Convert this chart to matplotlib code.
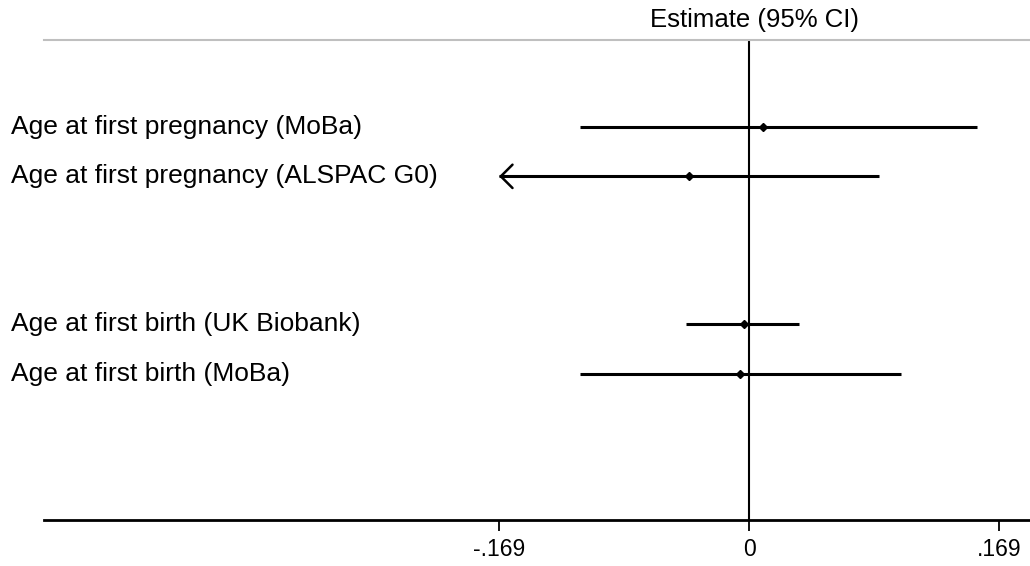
import matplotlib
matplotlib.use("Agg")
import matplotlib.pyplot as plt
from matplotlib.transforms import blended_transform_factory

plt.rcParams["font.family"] = ["Liberation Sans", "DejaVu Sans"]

LABELS = [
    "Age at first pregnancy (MoBa)",
    "Age at first pregnancy (ALSPAC G0)",
    "Age at first birth (UK Biobank)",
    "Age at first birth (MoBa)",
]
ROWS = [1, 2, 5, 6]
ESTIMATE = [0.0095, -0.0406, -0.0037, -0.0064]
CI_LOW = [-0.1143, -0.169, -0.0426, -0.1143]
CI_HIGH = [0.154, 0.0879, 0.0335, 0.1028]
TRUNCATED_LOW = [False, True, False, False]
XTICKS = [-0.169, 0, 0.169]
XTICK_LABELS = ["-.169", "0", ".169"]

LABEL_SIZE = 19
HEADER_SIZE = 18.5
TICK_SIZE = 16.5

fig = plt.figure(figsize=(10.30, 5.66), dpi=100)
ax = fig.add_axes([44 / 1030, 46 / 566, 986 / 1030, 480 / 566])
ax.set_xlim(-0.4767, 0.19)
ax.set_ylim(8.967, -0.764)

for row, est, lo, hi, trunc in zip(ROWS, ESTIMATE, CI_LOW, CI_HIGH, TRUNCATED_LOW):
    ax.plot([lo, hi], [row, row], color="black", linewidth=2.2, solid_capstyle="butt")
    if trunc:
        ax.annotate(
            "",
            xy=(lo, row),
            xytext=(lo + 0.03, row),
            arrowprops=dict(arrowstyle="->,head_length=0.6,head_width=0.6", color="black",
                            linewidth=1.8, shrinkA=0, shrinkB=0, mutation_scale=14),
        )
    ax.plot(est, row, marker="D", markersize=4.5, color="black", linestyle="none", zorder=3)

ax.axvline(0, color="black", linewidth=1.5, zorder=1)

for spine in ["left", "right"]:
    ax.spines[spine].set_visible(False)
ax.spines["bottom"].set_linewidth(2.0)
ax.spines["top"].set_color("#bfbfbf")
ax.spines["top"].set_linewidth(1.5)

ax.set_yticks([])
ax.set_xticks(XTICKS)
ax.set_xticklabels(XTICK_LABELS, fontsize=TICK_SIZE)
ax.tick_params(axis="x", length=8, width=1.3, pad=5, direction="out")

trans = blended_transform_factory(fig.transFigure, ax.transData)
for row, label in zip(ROWS, LABELS):
    ax.text(11 / 1030, row, label, transform=trans, ha="left", va="center",
            fontsize=LABEL_SIZE, clip_on=False)

head_trans = blended_transform_factory(ax.transData, fig.transFigure)
ax.text(0.004, 1 - 20 / 566, "Estimate (95% CI)", transform=head_trans, ha="center",
        va="center", fontsize=HEADER_SIZE, clip_on=False)

fig.savefig("out.png", dpi=100)
